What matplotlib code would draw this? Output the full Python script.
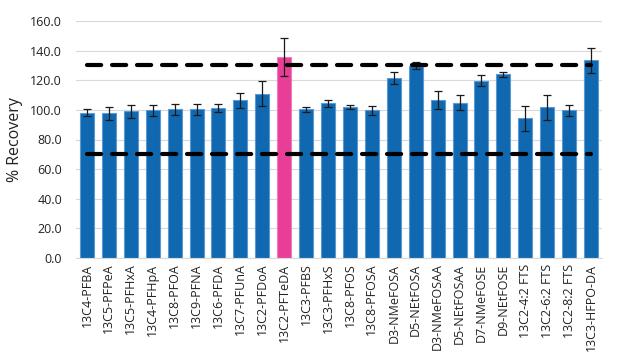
import matplotlib
matplotlib.use("Agg")
import matplotlib.pyplot as plt
import numpy as np

categories = ["13C4-PFBA", "13C5-PFPeA", "13C5-PFHxA", "13C4-PFHpA", "13C8-PFOA",
              "13C9-PFNA", "13C6-PFDA", "13C7-PFUnA", "13C2-PFDoA", "13C2-PFTeDA",
              "13C3-PFBS", "13C3-PFHxS", "13C8-PFOS", "13C8-PFOSA", "D3-NMeFOSA",
              "D5-NEtFOSA", "D3-NMeFOSAA", "D5-NEtFOSAA", "D7-NMeFOSE", "D9-NEtFOSE",
              "13C2-4:2 FTS", "13C2-6:2 FTS", "13C2-8:2 FTS", "13C3-HFPO-DA"]
recovery = [98.0, 97.6, 99.0, 99.6, 100.3, 100.3, 101.0, 106.4, 110.9, 135.5,
            100.3, 104.4, 101.7, 99.6, 121.3, 129.8, 106.6, 104.8, 119.7, 124.0,
            94.2, 101.7, 99.6, 133.4]
errors = [2.3, 4.3, 4.5, 3.4, 4.0, 4.0, 2.7, 5.0, 8.6, 12.8,
          1.5, 2.6, 1.4, 2.9, 4.0, 2.2, 6.2, 5.0, 3.9, 1.8,
          8.3, 8.6, 3.8, 8.2]
highlight = "13C2-PFTeDA"
upper_limit = 130
lower_limit = 70
yticks = [0, 20, 40, 60, 80, 100, 120, 140, 160]

plt.rcParams['font.family'] = ['Open Sans', 'DejaVu Sans']

fig = plt.figure(figsize=(6.2, 3.6), dpi=100)
ax = fig.add_axes([76/620, 1 - 258/360, 526/620, 237/360])

x = np.arange(len(categories))
colors = ["#E83E97" if c == highlight else "#1068B0" for c in categories]
edges = ["#F07DBB" if c == highlight else "#5B9BD5" for c in categories]
ax.bar(x, recovery, width=0.64, color=colors, edgecolor=edges, linewidth=0.8, zorder=2)
ax.errorbar(x, recovery, yerr=errors, fmt='none', ecolor='#1a1a1a', elinewidth=0.9,
            capsize=3, capthick=0.9, zorder=3)

for lim in (upper_limit, lower_limit):
    ax.plot([x[0], x[-1]], [lim, lim], color='black', linewidth=3.0,
            dashes=(3.4, 2.6), dash_capstyle='round', zorder=4)

ax.set_xlim(-0.5, len(categories) - 0.5)
ax.set_ylim(0, 160)
ax.set_yticks(yticks)
ax.set_yticklabels([f"{v:.1f}" for v in yticks], fontsize=9, color='#222222')
ax.set_xticks(x)
ax.set_xticklabels(categories, rotation=90, fontsize=9, color='#222222')
ax.tick_params(axis='x', length=0, pad=4)
ax.tick_params(axis='y', length=0, pad=10)
ax.yaxis.grid(True, color='#D9D9D9', linewidth=0.8, zorder=0)
ax.set_axisbelow(True)
for s in ['top', 'right', 'left']:
    ax.spines[s].set_visible(False)
ax.spines['bottom'].set_color('#D9D9D9')
ax.spines['bottom'].set_linewidth(0.8)
ax.set_ylabel("% Recovery", fontsize=11.5, labelpad=5, color='#222222')

fig.savefig("out.png", dpi=100)
